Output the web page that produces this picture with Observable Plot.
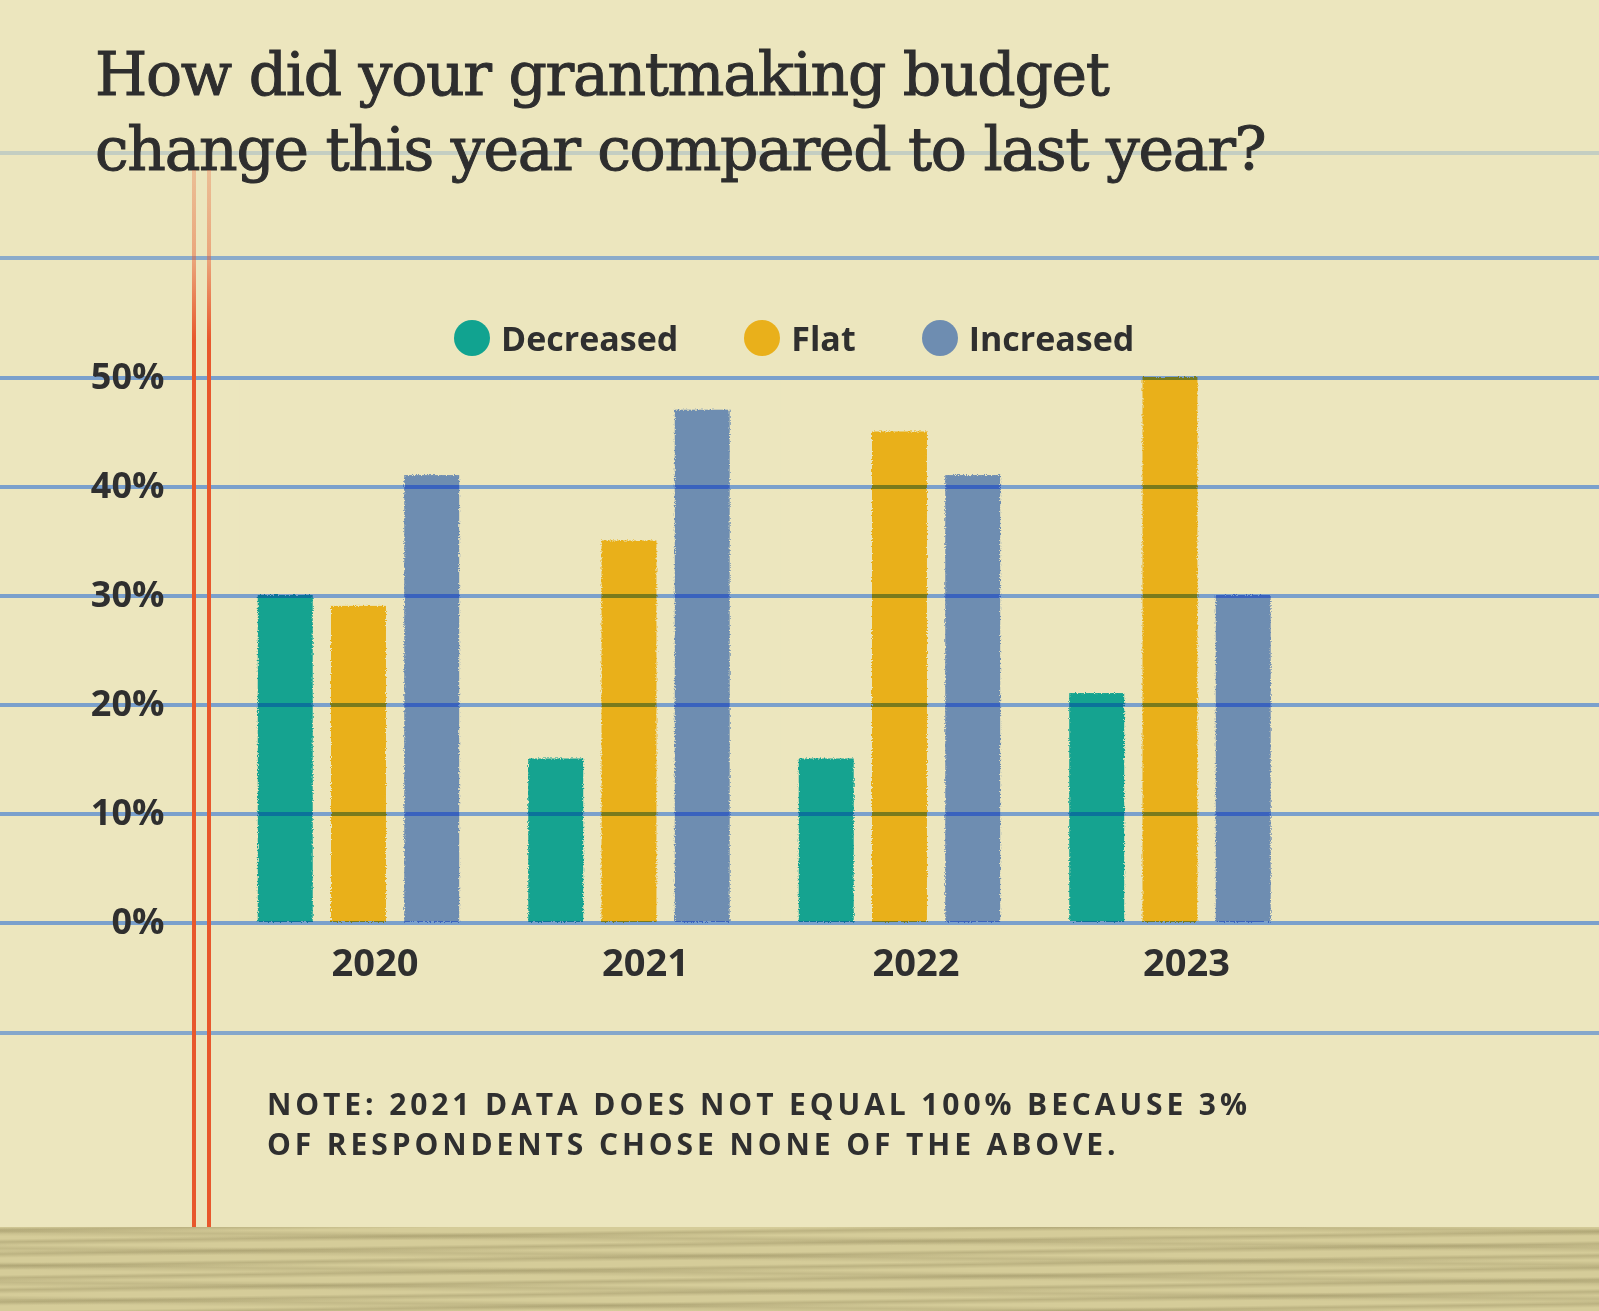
<!DOCTYPE html>
<html><head><meta charset="utf-8">
<script src="https://cdn.jsdelivr.net/npm/d3@7"></script>
<script src="https://cdn.jsdelivr.net/npm/@observablehq/plot@0.6"></script>
<style>
html,body{margin:0;padding:0;background:#ece6be;}
#page{position:relative;width:1599px;height:1311px;overflow:hidden;background:#ece6be;font-family:"Open Sans",sans-serif;color:#2f2f2f;}
.hline{position:absolute;left:0;width:1599px;height:4px;background:#7aa0cc;}
#title{position:absolute;left:95px;top:37px;font-family:"DejaVu Serif",serif;font-size:60px;line-height:75px;letter-spacing:-1.3px;color:#2e2e2e;white-space:nowrap;-webkit-text-stroke:1px #2e2e2e;}
#legend{position:absolute;left:454px;top:315px;height:46px;display:flex;align-items:center;font-size:34px;font-weight:700;line-height:46px;white-space:nowrap;}
#legend .item{display:flex;align-items:center;margin-right:66px;}
#legend .dot{width:36px;height:36px;border-radius:50%;margin-right:11px;}
#chart{position:absolute;left:0;top:270px;}
.red{position:absolute;width:4px;top:170px;height:1057px;background:linear-gradient(to bottom, rgba(232,88,44,0.28) 0px, rgba(232,88,44,0.45) 88px, rgba(232,88,44,1) 170px, #e8582c 100%);}
#note{position:absolute;left:267px;top:1084px;font-size:30px;font-weight:700;line-height:40px;letter-spacing:3.9px;color:#2f2f2f;white-space:nowrap;}
#wood{position:absolute;left:0;top:1227px;width:1599px;height:84px;background:
 repeating-linear-gradient(179.2deg, rgba(140,130,85,0) 0px, rgba(140,130,85,0.35) 3px, rgba(140,130,85,0) 7px, rgba(140,130,85,0) 12px),
 repeating-linear-gradient(180.6deg, rgba(140,130,85,0) 0px, rgba(140,130,85,0.25) 4px, rgba(140,130,85,0) 9px, rgba(140,130,85,0) 17px),
 #d5cc99;}
</style></head>
<body>
<div id="page">
  <div class="hline" style="top:151px;opacity:0.35"></div>
  <div class="hline" style="top:256px;opacity:0.85"></div>
  <div class="hline" style="top:1031px;opacity:0.9"></div>
  <div id="title">How did your grantmaking budget<br>change this year compared to last year?</div>
  <div id="legend"></div>
  <div id="chart"></div>
  <div class="red" style="left:192px"></div>
  <div class="red" style="left:207px"></div>
  <div id="note">NOTE: 2021 DATA DOES NOT EQUAL 100% BECAUSE 3%<br>OF RESPONDENTS CHOSE NONE OF THE ABOVE.</div>
  <div id="wood"></div>
</div>
<script>
const years = ["2020", "2021", "2022", "2023"];
const series = ["Decreased", "Flat", "Increased"];
const decreased = [30, 15, 15, 21];
const flat = [29, 35, 45, 50];
const increased = [41, 47, 41, 30];
const yTicks = [0, 10, 20, 30, 40, 50];
const seriesColors = ["#11a390", "#e9b01b", "#6e8db1"];
const paper = "#ece6be";

// fills compensated for multiply blending over the paper
const p = d3.rgb(paper);
const fills = seriesColors.map(c => {
  const a = d3.rgb(c);
  return d3.rgb(Math.min(255, a.r * 255 / p.r), Math.min(255, a.g * 255 / p.g), Math.min(255, a.b * 255 / p.b)).formatHex();
});

const values = {Decreased: decreased, Flat: flat, Increased: increased};
const rows = years.flatMap((year, i) => series.map(s => ({year, series: s, value: values[s][i]})));

// legend
const legend = document.getElementById("legend");
series.forEach((s, i) => {
  const item = document.createElement("div");
  item.className = "item";
  const dot = document.createElement("div");
  dot.className = "dot";
  dot.style.background = seriesColors[i];
  const lab = document.createElement("span");
  lab.textContent = s;
  item.appendChild(dot); item.appendChild(lab);
  legend.appendChild(item);
});

const width = 1599;
const fxPadIn = 0.12, fxPadOut = 1.0157;
const fxStep = width / (years.length - fxPadIn + 2 * fxPadOut);
const facetW = fxStep * (1 - fxPadIn);
const halfGap = fxStep * fxPadIn / 2;
const gridStyle = {stroke: "#7aa0cc", strokeWidth: 4, shapeRendering: "crispEdges"};

const chart = Plot.plot({
  width, height: 740,
  marginTop: 107, marginBottom: 88, marginLeft: 0, marginRight: 0,
  style: {background: "transparent", fontFamily: "'Open Sans', sans-serif", fontSize: "36px", fontWeight: 700, color: "#2f2f2f", overflow: "visible"},
  fx: {domain: years, paddingInner: fxPadIn, paddingOuter: fxPadOut, align: 0.4358, round: false, axis: null},
  x: {domain: series, padding: 0.25, round: false, axis: null},
  y: {domain: [0, 50], axis: null},
  color: {domain: series, range: fills},
  marks: [
    Plot.frame({fill: paper, stroke: null}),
    // notebook gridlines, tiled across facets so they run the full width
    Plot.ruleY(yTicks, {...gridStyle, insetLeft: -halfGap, insetRight: -halfGap}),
    Plot.ruleY(yTicks, {...gridStyle, fx: yTicks.map(() => years[0]), insetLeft: -400, insetRight: facetW + halfGap}),
    Plot.ruleY(yTicks, {...gridStyle, fx: yTicks.map(() => years[years.length - 1]), insetLeft: facetW + halfGap, insetRight: -400}),
    Plot.barY(rows, {fx: "year", x: "series", y: "value", fill: "series", mixBlendMode: "multiply"}),
    Plot.axisY(yTicks, {anchor: "left", tickSize: 0, tickPadding: 75.5, tickFormat: d => d + "%", fill: "#2f2f2f", label: null}),
    Plot.axisFx({anchor: "bottom", tickSize: 0, tickPadding: 27, dx: 16, label: null, fill: "#2f2f2f", fontSize: 38})
  ]
});

// chalky, slightly rough bar edges; the filtered group itself is multiplied onto the page
const defs = document.createElementNS("http://www.w3.org/2000/svg", "defs");
defs.innerHTML = '<filter id="rough" x="-10%" y="-5%" width="120%" height="110%">' +
  '<feTurbulence type="fractalNoise" baseFrequency="0.7" numOctaves="2" seed="4" result="n"/>' +
  '<feDisplacementMap in="SourceGraphic" in2="n" scale="4" xChannelSelector="R" yChannelSelector="G"/></filter>';
chart.insertBefore(defs, chart.firstChild);
chart.querySelectorAll('g[aria-label="bar"]').forEach(g => {
  g.setAttribute("filter", "url(#rough)");
  g.style.mixBlendMode = "multiply";
});

document.getElementById("chart").appendChild(chart);
</script>
</body></html>
